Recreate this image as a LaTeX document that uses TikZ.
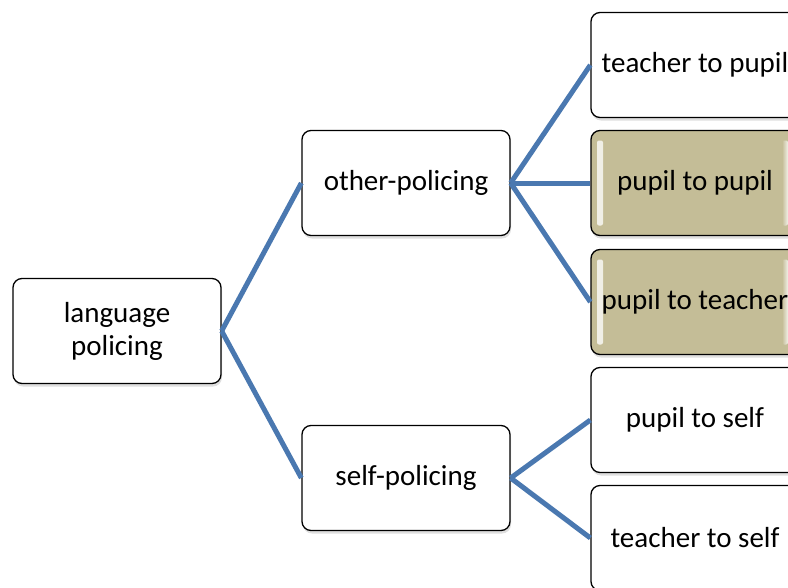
\documentclass[tikz,border=0pt]{standalone}
\usepackage{fontspec}
\setmainfont{Carlito}
\usepackage{tikz}
\usetikzlibrary{shadows}
\definecolor{linkblue}{RGB}{74,120,176}
\definecolor{khaki}{RGB}{196,189,151}
\tikzset{my_tree/.style={x=1pt,y=-1pt}}
\tikzset{my_box/.style={draw=black, line width=1.3pt, rounded corners=9pt, fill=white,
    minimum width=208pt, minimum height=105pt, align=center,
    font=\fontsize{29}{33}\selectfont,
    drop shadow={opacity=0.25, shadow xshift=1pt, shadow yshift=-3pt}}}
\tikzset{my_gold_box/.style={my_box, fill=khaki,
    path picture={
      \fill[rounded corners=2pt, left color=white, right color=khaki, opacity=0.8]
        ([xshift=6pt,yshift=-10pt]path picture bounding box.north west) rectangle
        ([xshift=12pt,yshift=10pt]path picture bounding box.south west);
      \fill[rounded corners=2pt, left color=khaki, right color=white, opacity=0.8]
        ([xshift=-17pt,yshift=-10pt]path picture bounding box.north east) rectangle
        ([xshift=-11pt,yshift=10pt]path picture bounding box.south east);
    }}}
\tikzset{my_link/.style={draw=linkblue, line width=5pt}}

\begin{document}
\begin{tikzpicture}[my_tree]
    \clip (0,0) rectangle (788,587);
    %\draw[help lines] (0,0) grid (788,587);
    \node[my_box] (lang) at (117,331) {language\\policing};
    \node[my_box] (other) at (406,183) {other-policing};
    \node[my_box] (self) at (406,478) {self-policing};
    \node[my_box] (tp) at (695,65) {teacher to pupil};
    \node[my_gold_box] (pp) at (695,183) {pupil to pupil};
    \node[my_gold_box] (pt) at (695,302) {pupil to teacher};
    \node[my_box] (ps) at (695,420) {pupil to self};
    \node[my_box] (ts) at (695,538) {teacher to self};

    \path[my_link]
        (lang.east) edge (other.west)
        (lang.east) edge (self.west)
        (other.east) edge (tp.west)
        (other.east) edge (pp.west)
        (other.east) edge (pt.west)
        (self.east) edge (ps.west)
        (self.east) edge (ts.west)
    ;
\end{tikzpicture}
\end{document}
